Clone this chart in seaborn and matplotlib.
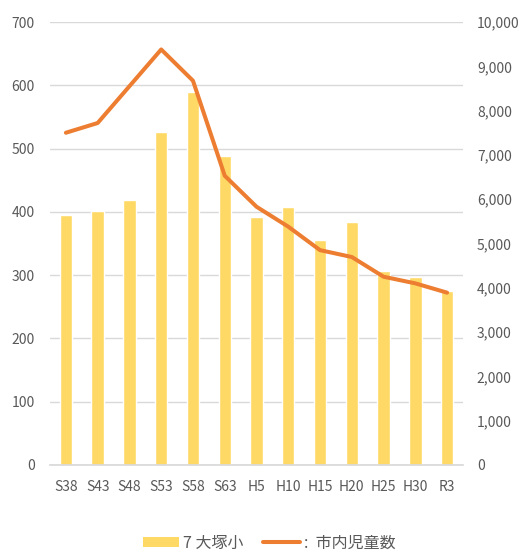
import matplotlib
matplotlib.use('Agg')
import matplotlib.pyplot as plt
import seaborn as sns
import numpy as np
from matplotlib.patches import Patch
from matplotlib.lines import Line2D
from matplotlib.ticker import FuncFormatter

sns.set_theme(style='white')
plt.rcParams['font.family'] = ['Noto Sans CJK JP', 'DejaVu Sans']

years = ['S38', 'S43', 'S48', 'S53', 'S58', 'S63', 'H5', 'H10', 'H15', 'H20', 'H25', 'H30', 'R3']
otsuka = [395, 401, 419, 526, 590, 488, 392, 408, 356, 384, 307, 297, 275]
city_children = [7500, 7720, 8550, 9380, 8675, 6530, 5830, 5380, 4850, 4695, 4250, 4100, 3890]

bar_color = '#FFD966'
line_color = '#ED7D31'
text_color = '#595959'

fig = plt.figure(figsize=(5.26, 5.52), dpi=100)
# plot area: x 50..463 px, y 22..465 px
ax = fig.add_axes([50 / 526, 87 / 552, 413 / 526, 443 / 552])

sns.barplot(x=years, y=otsuka, color=bar_color, saturation=1, width=0.39, ax=ax)
ax.set_ylim(0, 700)
ax.set_yticks(range(0, 701, 100))
ax.yaxis.grid(True, color='#d9d9d9', linewidth=1)
ax.set_axisbelow(True)
ax.set_xlim(-0.5, len(years) - 0.5)

ax2 = ax.twinx()
sns.lineplot(x=np.arange(len(years)), y=city_children, color=line_color, linewidth=2.9, ax=ax2)
ax2.set_ylim(0, 10000)
ax2.set_yticks(range(0, 10001, 1000))
ax2.yaxis.set_major_formatter(FuncFormatter(lambda v, p: f'{int(v):,}'))
ax2.grid(False)

for a in (ax, ax2):
    for s in a.spines.values():
        s.set_visible(False)
    a.tick_params(length=0, colors=text_color, labelsize=10)
ax.spines['bottom'].set_visible(True)
ax.spines['bottom'].set_color('#d9d9d9')
ax.tick_params(axis='x', pad=11)
ax.tick_params(axis='y', pad=11)
ax2.tick_params(axis='y', pad=10)

handles = [Patch(facecolor=bar_color, edgecolor='none'),
           Line2D([0], [0], color=line_color, linewidth=2.9)]
labels = ['7 大塚小', ':  市内児童数']
fig.legend(handles, labels, loc='center', bbox_to_anchor=(269 / 526, 9 / 552), ncol=2,
           frameon=False, fontsize=11.5, handlelength=2.3, handleheight=0.65,
           handletextpad=0.25, columnspacing=1.2, labelcolor=text_color,
           borderpad=0, borderaxespad=0)

plt.savefig('out.png', dpi=100)
